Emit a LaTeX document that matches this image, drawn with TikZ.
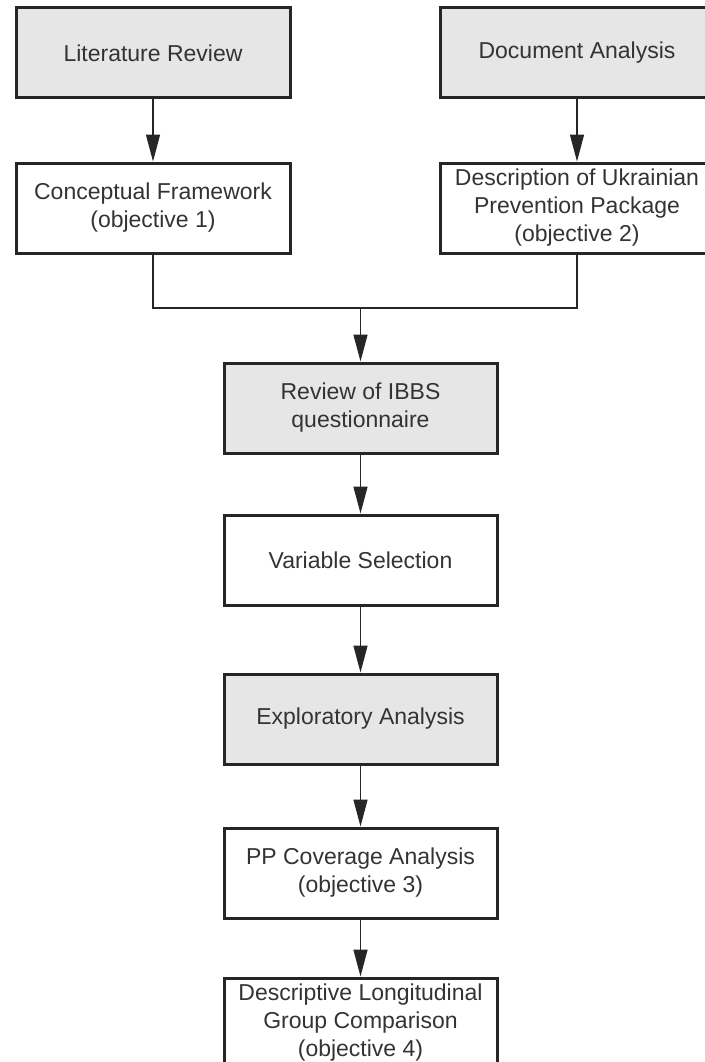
\documentclass[tikz,border=0pt]{standalone}
\usepackage{fontspec}
\setmainfont{Liberation Sans}
\usetikzlibrary{arrows.meta}
\definecolor{boxgrey}{HTML}{E6E6E6}
\definecolor{inkgrey}{HTML}{333333}
\begin{document}
\begin{tikzpicture}[x=1pt, y=1pt,
    stage/.style={draw=black!85, line width=3pt, minimum width=274pt, minimum height=90pt,
        inner sep=0pt, align=center, text=inkgrey, font=\fontsize{23}{28}\selectfont},
    shaded/.style={stage, fill=boxgrey},
    flow/.style={line width=1.5pt, draw=black!85, -{Triangle[length=27pt, width=14pt]}}]
        \useasboundingbox (0,0) rectangle (704,-1062);

        \draw (153,-53) node [shaded] (lit) {Literature Review};
        \draw (577,-53) node [shaded] (doc) {Document Analysis};
        \draw (153,-208) node [stage] (concept) {Conceptual Framework\\(objective 1)};
        \draw (577,-208) node [stage] (desc) {Description of Ukrainian\\Prevention Package\\(objective 2)};
        \draw (360.5,-408) node [shaded, minimum width=273pt] (review) {Review of IBBS\\questionnaire};
        \draw (360.5,-560) node [stage, minimum width=273pt] (vars) {Variable Selection};
        \draw (360.5,-719) node [shaded, minimum width=273pt] (explore) {Exploratory Analysis};
        \draw (360.5,-873) node [stage, minimum width=273pt] (cover) {PP Coverage Analysis\\(objective 3)};
        \draw (360.5,-1023) node [stage, minimum width=273pt] (compare) {Descriptive Longitudinal\\Group Comparison\\(objective 4)};

        \coordinate (merge) at (360.5,-308);

        \draw[flow] (lit) -- (concept);
        \draw[flow] (doc) -- (desc);
        \draw[line width=1.5pt, draw=black!85] (concept.south) |- (merge) -| (desc.south);
        \draw[flow] (merge) -- (review);
        \draw[flow] (review) -- (vars);
        \draw[flow] (vars) -- (explore);
        \draw[flow] (explore) -- (cover);
        \draw[flow] (cover) -- (compare);
    \end{tikzpicture}
\end{document}
